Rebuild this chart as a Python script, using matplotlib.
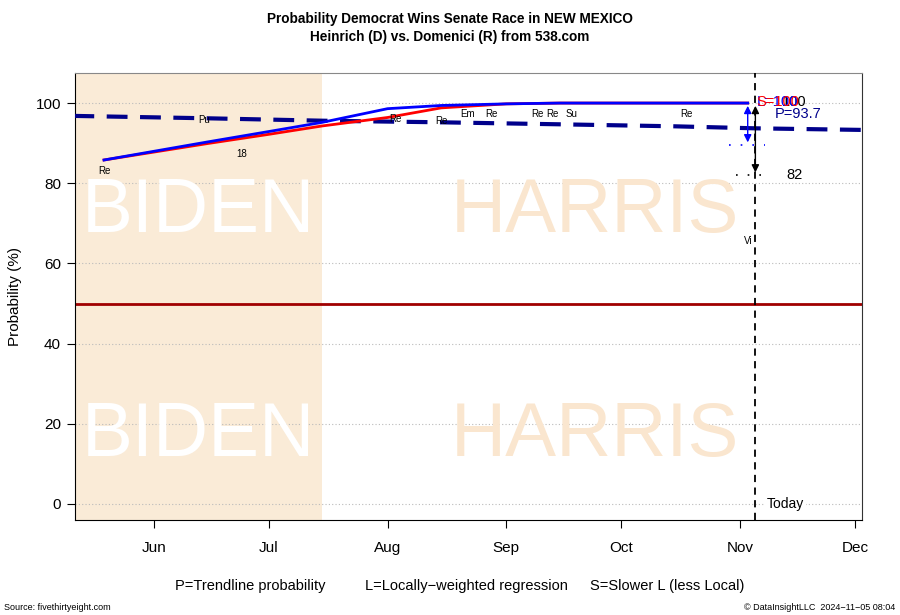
import datetime as dt
import numpy as np
import matplotlib
matplotlib.use("Agg")
import matplotlib.pyplot as plt
import matplotlib.dates as mdates

plt.rcParams['font.family'] = ['Liberation Sans', 'DejaVu Sans']

D = dt.datetime

# trend lines
l_dates = [D(2024, 5, 19), D(2024, 6, 15), D(2024, 7, 1), D(2024, 7, 15), D(2024, 8, 1),
           D(2024, 8, 15), D(2024, 9, 1), D(2024, 9, 15), D(2024, 10, 1), D(2024, 11, 3)]
l_vals = [85.8, 90.3, 92.9, 95.2, 98.6, 99.4, 99.8, 100.0, 100.0, 100.0]

s_dates = [D(2024, 5, 19), D(2024, 6, 15), D(2024, 7, 1), D(2024, 7, 15), D(2024, 8, 1),
           D(2024, 8, 15), D(2024, 9, 1), D(2024, 9, 15), D(2024, 10, 1), D(2024, 11, 3)]
s_vals = [85.8, 89.9, 92.2, 94.3, 96.4, 98.8, 99.8, 100.0, 100.0, 100.0]

p_dates = [D(2024, 5, 11), D(2024, 6, 15), D(2024, 7, 15), D(2024, 8, 15), D(2024, 9, 15),
           D(2024, 10, 15), D(2024, 11, 5), D(2024, 12, 3)]
p_vals = [96.8, 96.2, 95.6, 95.2, 94.7, 94.2, 93.7, 93.3]

# pollster labels
poll_names = ["Re", "Pu", "18", "Re", "Re", "Em", "Re", "Re", "Re", "Su", "Re", "Vi"]
poll_dates = [D(2024, 5, 19), D(2024, 6, 14), D(2024, 6, 24), D(2024, 8, 3), D(2024, 8, 15),
              D(2024, 8, 22), D(2024, 8, 28), D(2024, 9, 9), D(2024, 9, 13), D(2024, 9, 18),
              D(2024, 10, 18), D(2024, 11, 3)]
poll_vals = [83.0, 95.8, 87.3, 96.0, 95.5, 97.2, 97.2, 97.2, 97.2, 97.2, 97.2, 65.6]

today = D(2024, 11, 5)
biden_end = D(2024, 7, 15)
x_start, x_end = D(2024, 5, 11, 10), D(2024, 12, 2, 20)
month_ticks = [D(2024, m, 1) for m in range(6, 13)]
month_labels = ["Jun", "Jul", "Aug", "Sep", "Oct", "Nov", "Dec"]

p_now, l_now, s_now = 93.7, 100, 100
low_p, low_82 = 89.5, 82

fig = plt.figure(figsize=(9, 6.15), dpi=100)
ax = fig.add_axes([0.0833, 0.1545, 0.8745, 0.7268])

ax.axvspan(x_start, biden_end, color='#FAEBD7', zorder=0, lw=0)
for y in [0, 20, 40, 60, 80, 100]:
    ax.axhline(y, color='#bbbbbb', lw=0.8, ls=(0, (1, 2)), zorder=1)

# watermarks
mid_b = mdates.num2date((mdates.date2num(x_start) + mdates.date2num(biden_end)) / 2)
for yv in [72.8, 16.8]:
    ax.text(mid_b, yv, "BIDEN", color='white', fontsize=55, ha='center', va='center', zorder=1)
    ax.text(D(2024, 9, 24), yv, "HARRIS", color='#FAE6CF', fontsize=55, ha='center', va='center', zorder=1)

ax.axhline(50, color='#a00000', lw=2, zorder=2)

ax.plot(p_dates, p_vals, color='#00008B', lw=3, ls=(0, (5, 3)), zorder=3)
ax.plot(s_dates, s_vals, color='red', lw=2, zorder=4)
ax.plot(l_dates, l_vals, color='blue', lw=2, zorder=5)

for n, d, v in zip(poll_names, poll_dates, poll_vals):
    ax.text(d, v, n, fontsize=7, ha='center', va='center', zorder=6)

ax.axvline(today, color='black', lw=1.3, ls=(0, (4, 3)), zorder=6)
ax.text(D(2024, 11, 8), 0, "Today", fontsize=10, va='center', ha='left',
        bbox=dict(fc='white', ec='none', pad=1), zorder=6)

# right-side arrows and values
ax.annotate("", xy=(D(2024, 11, 3), low_p), xytext=(D(2024, 11, 3), l_now),
            arrowprops=dict(arrowstyle='<|-|>', color='blue', lw=1, mutation_scale=11), zorder=7)
ax.plot([D(2024, 10, 29), D(2024, 11, 7, 12)], [low_p, low_p], color='blue', lw=1.2,
        ls=(0, (1, 6)), zorder=7)
ax.annotate("", xy=(today, low_82), xytext=(today, l_now),
            arrowprops=dict(arrowstyle='<|-|>', color='black', lw=1, mutation_scale=11), zorder=7)
ax.plot([D(2024, 10, 31), D(2024, 11, 9)], [low_82, low_82], color='black', lw=1.2,
        ls=(0, (1, 6)), zorder=7)
ax.text(D(2024, 11, 13), low_82, "82", fontsize=10.5, va='center')
ax.text(D(2024, 11, 12), 100.3, "100", fontsize=10.5, va='center', color='black', zorder=7)
ax.text(D(2024, 11, 5, 6), 100.3, "L=%d" % l_now, fontsize=10.5, va='center', color='blue', zorder=8)
ax.text(D(2024, 11, 5, 6), 100.3, "S=%d" % s_now, fontsize=10.5, va='center', color='red', zorder=8)
ax.text(D(2024, 11, 10), 97.3, "P=%.1f" % p_now, fontsize=10.5, va='center', color='#00008B', zorder=8)

ax.set_xlim(x_start, x_end)
ax.set_ylim(-4, 107.5)
ax.set_xticks(month_ticks)
ax.set_xticklabels(month_labels)
ax.set_yticks([0, 20, 40, 60, 80, 100])
ax.tick_params(labelsize=11, length=6, direction='out')
ax.tick_params(axis='x', pad=9)
ax.tick_params(axis='y', pad=4)
ax.set_ylabel("Probability (%)", fontsize=11, labelpad=10)
ax.spines['top'].set_color('#888888')
ax.spines['right'].set_color('#333333')

fig.text(0.5, 0.962, "Probability Democrat Wins Senate Race in NEW MEXICO", ha='center',
         fontsize=9.8, fontweight='bold')
fig.text(0.5, 0.934, "Heinrich (D) vs. Domenici (R) from 538.com", ha='center',
         fontsize=9.8, fontweight='bold')
fig.text(0.278, 0.040, "P=Trendline probability", ha='center', fontsize=10.5)
fig.text(0.518, 0.040, "L=Locally\u2212weighted regression", ha='center', fontsize=10.5)
fig.text(0.741, 0.040, "S=Slower L (less Local)", ha='center', fontsize=10.5)
fig.text(0.004, 0.008, "Source: fivethirtyeight.com", fontsize=6.5)
fig.text(0.995, 0.008, "\u00a9 DataInsightLLC  2024\u221211\u221205 08:04", fontsize=6.5, ha='right')

fig.savefig("out.png", dpi=100)
